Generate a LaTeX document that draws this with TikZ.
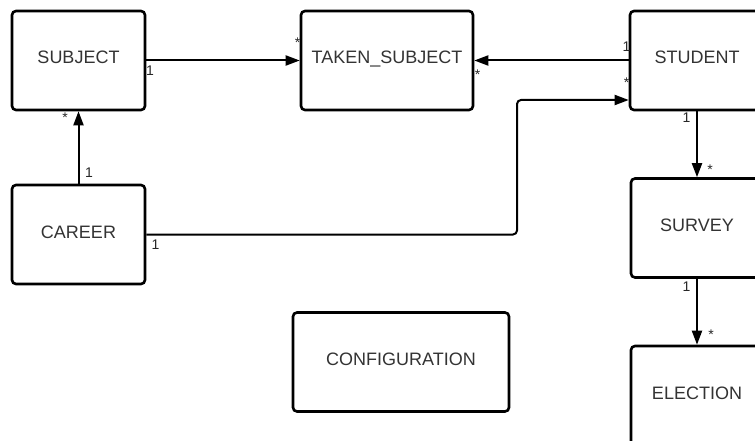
\documentclass[tikz,border=0pt]{standalone}
\usepackage{fontspec}
\setmainfont{Liberation Sans}
\usepackage{tikz}
\usetikzlibrary{arrows.meta}
\usepackage{xcolor}
\definecolor{txt}{HTML}{333333}
\newcommand{\FE}{\fontsize{18}{22}\selectfont}
\newcommand{\FC}{\fontsize{14}{16}\selectfont}

\begin{document}
\begin{tikzpicture}[x=1pt,y=-1pt]
\tikzstyle{entity}=[draw=black,line width=2.6pt,rounded corners=4pt,fill=white,
  minimum height=99pt,text height=13pt,text depth=6pt,text=txt,font=\FE,inner sep=0pt]
\tikzstyle{rel}=[black,line width=2pt,-{Triangle[length=14pt,width=10pt]}]
\tikzstyle{card}=[inner sep=0pt,anchor=base,black!85,font=\FC]

\path[use as bounding box,clip] (0,0) rectangle (755,441);

\node[entity,minimum width=133pt] (subject)  at (78.5,60.5)  {SUBJECT};
\node[entity,minimum width=172pt] (taken)    at (387,60.5)   {TAKEN\_SUBJECT};
\node[entity,minimum width=134pt] (student)  at (697,60.5)   {STUDENT};
\node[entity,minimum width=133pt] (career)   at (78.5,234.5) {CAREER};
\node[entity,minimum width=132pt] (survey)   at (697,228)    {SURVEY};
\node[entity,minimum width=132pt] (election) at (697,395.5)  {ELECTION};
\node[entity,minimum width=216pt] (config)   at (401,362)    {CONFIGURATION};

\coordinate (bend) at (517,100);

\draw[rel] (subject.east) -- (taken.west);
\draw[rel] (student.west) -- (taken.east);
\draw[rel,rounded corners=4pt] (career.east) -| (bend) -- (bend -| student.west);
\draw[rel] (career.north) -- (subject.south);
\draw[rel] (student.south) -- (survey.north);
\draw[rel] (survey.south) -- (election.north);

\node[card] (c1) at (150,76)   {1};
\node[card] (m1) at (297.5,48) {*};
\node[card] (c2) at (626.5,52) {1};
\node[card] (m2) at (477.5,80) {*};
\node[card] (c3) at (155.5,249) {1};
\node[card] (m3) at (626.5,88) {*};
\node[card] (c4) at (89,178)   {1};
\node[card] (m4) at (65,123)   {*};
\node[card] (c5) at (686.5,123) {1};
\node[card] (m5) at (710,175)  {*};
\node[card] (c6) at (686.5,291) {1};
\node[card] (m6) at (711,339)  {*};
\end{tikzpicture}
\end{document}
